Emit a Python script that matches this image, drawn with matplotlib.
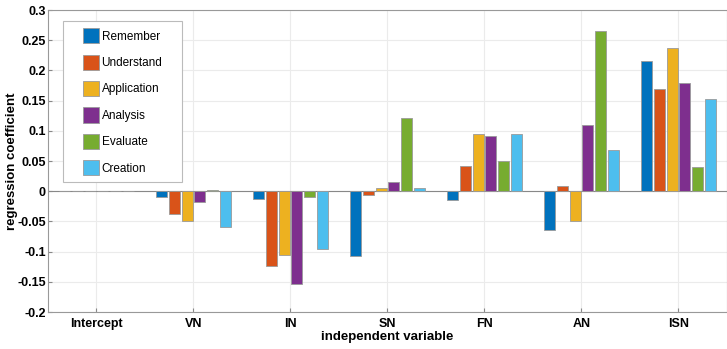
import matplotlib
matplotlib.use("Agg")
import matplotlib.pyplot as plt
from matplotlib.patches import Rectangle
from matplotlib.legend_handler import HandlerPatch
from matplotlib.transforms import IdentityTransform
import numpy as np

plt.rcParams['font.family'] = ['Liberation Sans', 'DejaVu Sans']

categories = ["Intercept", "VN", "IN", "SN", "FN", "AN", "ISN"]
series_names = ["Remember", "Understand", "Application", "Analysis", "Evaluate", "Creation"]
remember    = [0, -0.010, -0.013, -0.108, -0.015, -0.065, 0.216]
understand  = [0, -0.037, -0.124, -0.007,  0.042,  0.008, 0.169]
application = [0, -0.050, -0.105,  0.005,  0.094, -0.050, 0.237]
analysis    = [0, -0.017, -0.153,  0.015,  0.091,  0.110, 0.180]
evaluate    = [0,  0.002, -0.009,  0.121,  0.050,  0.265, 0.040]
creation    = [0, -0.060, -0.096,  0.006,  0.094,  0.069, 0.153]
yticks = [-0.2, -0.15, -0.1, -0.05, 0, 0.05, 0.1, 0.15, 0.2, 0.25, 0.3]
ytick_labels = ["-0.2", "-0.15", "-0.1", "-0.05", "0", "0.05", "0.1", "0.15", "0.2", "0.25", "0.3"]

colors = ["#0072BD", "#D95319", "#EDB120", "#7E2F8E", "#77AC30", "#4DBEEE"]
data = [remember, understand, application, analysis, evaluate, creation]

fig = plt.figure(figsize=(7.27, 3.49), dpi=100)
ax = fig.add_axes([0.066, 0.106, 0.934, 0.865])

x = np.arange(len(categories))
n = len(data)
group = 0.8
w = group / n
for i, (vals, c, name) in enumerate(zip(data, colors, series_names)):
    offs = (i - (n - 1) / 2) * w
    ax.bar(x + offs, vals, width=w * 0.85, color=c, edgecolor="#9a9a9a",
           linewidth=0.6, label=name, zorder=3)

ax.axhline(0, color="#888888", linewidth=0.8, zorder=2)
ax.set_xlim(-0.5, 6.5)
ax.set_ylim(-0.2, 0.3)
ax.set_xticks(x)
ax.set_xticklabels(categories, fontweight="bold", fontsize=9)
ax.set_yticks(yticks)
ax.set_yticklabels(ytick_labels, fontweight="bold", fontsize=9)
ax.grid(True, color="#ebebeb", linewidth=0.8, zorder=0)
ax.tick_params(direction="in", length=3, color="#888888")
ax.tick_params(axis="y", pad=1.5)
ax.tick_params(axis="x", pad=4)
for s in ax.spines.values():
    s.set_color("#999999")
    s.set_linewidth(0.8)
ax.set_xlabel("independent variable", fontweight="bold", fontsize=9.5, labelpad=1)
ax.set_ylabel("regression coefficient", fontweight="bold", fontsize=9.5)
ax.yaxis.set_label_coords(-0.044, 0.5)


def square_patch(legend, orig_handle, xdescent, ydescent, width, height, fontsize):
    side = min(width, height * 1.1)
    return Rectangle((width - side - xdescent, -ydescent - 0.05 * height), side, height * 1.1)


leg = ax.legend(loc="upper left", bbox_to_anchor=(0.051, 0.94), fontsize=8.5,
                handlelength=1.4, handleheight=1.6, handletextpad=0.2,
                labelspacing=0.95, borderpad=0.0, frameon=False, borderaxespad=0,
                handler_map={Rectangle: HandlerPatch(patch_func=square_patch)})
leg.set_zorder(6)

fig.canvas.draw()
bb = leg.get_window_extent()
padl, padr, pady = 20, 20, 7
frame = Rectangle((bb.x0 - padl, bb.y0 - pady), bb.width + padl + padr, bb.height + 2 * pady,
                  transform=IdentityTransform(), facecolor="white", edgecolor="#bbbbbb",
                  linewidth=0.8, zorder=5, clip_on=False)
ax.add_artist(frame)

fig.savefig("out.png", dpi=100)
